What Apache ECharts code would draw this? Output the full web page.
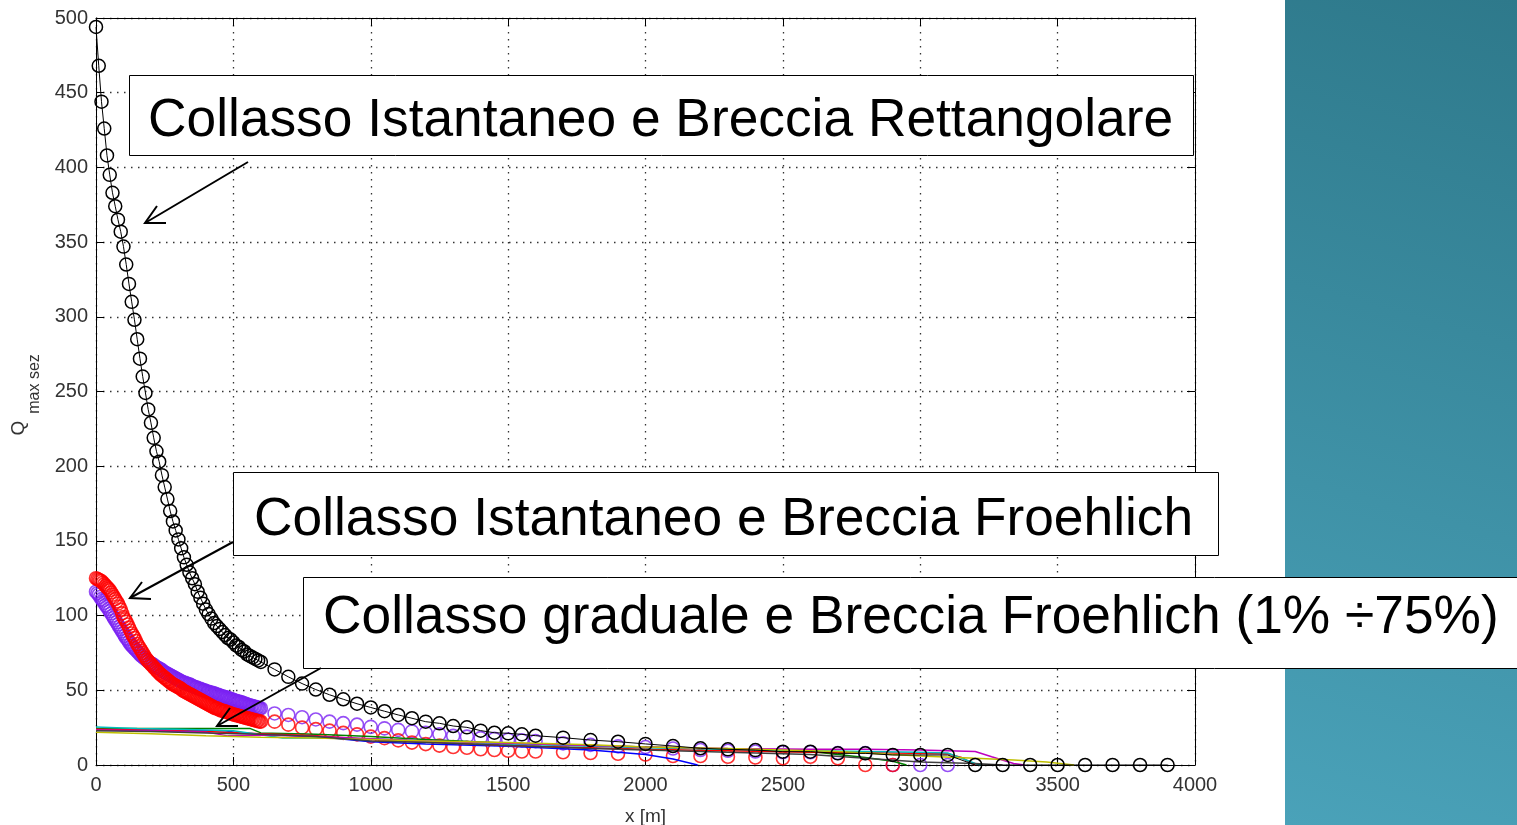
<!DOCTYPE html>
<html>
<head>
<meta charset="utf-8">
<script src="https://cdn.jsdelivr.net/npm/echarts@6/dist/echarts.min.js"></script>
<style>
  html, body { margin: 0; padding: 0; background: #ffffff; }
  #chart { width: 1517px; height: 825px; }
</style>
</head>
<body>
<div id="chart"></div>
<script>
// Cross-section positions along the valley [m]
const sectionsFine = [0,5,10,15,20,25,30,35,40,45,50,55,60,65,70,75,80,85,90,95,100,
  105,110,115,120,125,130,135,140,145,150,155,160,165,170,175,180,185,190,195,200,
  205,210,215,220,225,230,235,240,245,250,255,260,265,270,275,280,285,290,295,300,
  305,310,315,320,325,330,335,340,345,350,355,360,365,370,375,380,385,390,395,400,
  405,410,415,420,425,430,435,440,445,450,455,460,465,470,475,480,485,490,495,500,
  505,510,515,520,525,530,535,540,545,550,555,560,565,570,575,580,585,590,595,600];
const sectionsDense = [0,10,20,30,40,50,60,70,80,90,100,110,120,130,140,150,160,170,180,190,200,
  210,220,230,240,250,260,270,280,290,300,310,320,330,340,350,360,370,380,390,400,
  410,420,430,440,450,460,470,480,490,500,510,520,530,540,550,560,570,580,590,600];
const sectionsSparse = [650,700,750,800,850,900,950,1000,1050,1100,1150,1200,1250,1300,1350,1400,1450,1500,1550,1600,
  1700,1800,1900,2000,2100,2200,2300,2400,2500,2600,2700,2800,2900,3000,3100,3200,3300,3400,3500,3600,3700,3800,3900];

// Peak discharge, instantaneous collapse, rectangular breach
const rettDense = [494,468,444,426,408,395,383,374,365,357,347,335,322,310,298,285,272,260,249,238,229,
  219,210,203,194,186,178,170,163,157,151,145,139,134,129,125,121,116,112,108,104,
  101,98,95,93,91,89,87,85,84,82,80,79,77,76,74,73,72,71,70,69];
const rettSparse = [64,59,54.5,50.5,47,44,41,38.5,36,33.5,31.3,29,27.9,26.1,25.2,23,21.6,21.2,20.5,19.6,
  18.3,16.7,15.6,14.1,12.7,11.2,10.5,10,8.9,8.9,7.8,7.8,6.7,6.7,6.7,0,0,0,0,0,0,0,0];

// Peak discharge, instantaneous collapse, Froehlich breach (two runs)
const froehRedFine = [125,124.5,124,123.5,123,122,121,120,119,118,117,115.5,114,112.5,111,109.5,108,106,104,101.5,99,
  97.5,96,94,92,90,88,86.5,85,83,81,79.5,78,76.5,75,73.5,72,70.5,69.5,68.5,67.5,
  66.5,65.5,64.5,63.5,62.5,61.5,60.5,60,59,58.5,57.5,57,56,55.5,54.5,54,53.5,53,52.5,52,
  51.5,51,50,49.5,49,48.5,48,47.5,47,46.5,46,45.5,45,44.5,44,43.5,43,42.5,42,41.5,
  41,40.5,40,39.5,39,38.5,38,38,37.5,37,36.5,36.5,36,36,35.5,35,35,34.5,34,34,
  33.5,33.5,33,33,32.5,32.5,32,32,31.5,31.5,31,31,30.5,30.5,30,30,29.5,29.5,29,29];
const froehRedSparse = [29,27,25,24,23,21.5,20.5,19,18,16.5,15,14,13,12,11.5,10.5,10,9.5,9,9,
  8.5,8,7.5,7,6,6,5.5,5,4.5,5.5,4.5,0,0];
const froehVioFine = [116,115,114,112.5,111,110,108.5,107,106,104.5,103,101.5,100,98.5,97,95.5,94,92.5,91,89.5,88,
  86.5,85,84,82.5,81,80,79,78,77,76,75,74,73,72.5,71.5,71,70,69.5,68.5,68,
  67.5,67,66,65.5,65,64.5,64,63.5,62.5,62,61.5,61,60.5,60,59.5,59,58.5,58,57.5,57,
  56.5,56,55.5,55,55,54.5,54,54,53.5,53,52.5,52,52,51.5,51,51,50.5,50,50,49.5,
  49,49,48.5,48.5,48,48,47.5,47,47,46.5,46,46,45.5,45.5,45,45,44.5,44,44,43.5,
  43,43,42.5,42.5,42,42,41.5,41,41,40.5,40,40,39.5,39.5,39,39,38.5,38.5,38,38];
const froehVioSparse = [34.5,33.5,32,30.5,29,28,27,25.5,24.5,23.5,22.5,21.5,20.5,19.5,19,18,17.5,17,16.5,16,
  14.5,13.5,12.5,12,11,10,9.5,9,8.5,8.5,8,8,0,0,0];

// Peak discharge, gradual collapse, Froehlich breach (1% - 75%)
const gradBlue = [[0,24],[250,23.5],[470,23],[520,21.5],[800,19],[1000,15.5],[1200,14],[1500,12.5],[1800,10],[2000,7],[2100,4],[2190,0]];
const gradGreen = [[0,24.5],[300,24.5],[560,24.5],[600,21.5],[800,20.5],[1000,19],[1200,17],[1500,14.5],[1800,13],[2000,12],[2300,10.5],[2600,9],[2800,5],[2900,2.5],[2950,0]];
const gradRed = [[0,24],[200,23.5],[400,22.5],[600,21],[800,19.5],[1000,17],[1200,15.5],[1500,13],[1800,11.5],[2000,10.5],[2300,9.5],[2600,8.5],[2900,8],[3100,7.5],[3150,5],[3200,0]];
const gradCyan = [[0,25.5],[150,24.5],[300,24],[500,23],[680,18],[800,18],[1000,17.5],[1200,16],[1500,14],[1800,12.5],[2000,11.5],[2300,10.5],[2600,9.5],[2800,9],[3000,8.5],[3100,8],[3200,1],[3220,0]];
const gradMagenta = [[0,23.5],[200,23],[400,22],[480,19.5],[600,20],[800,19],[1000,17.5],[1200,16],[1500,14.5],[1800,13],[2000,12],[2300,11],[2600,10.5],[2800,10.5],[3000,10],[3200,9],[3260,5.5],[3340,1],[3380,0]];
const gradYellow = [[0,22],[200,21],[400,19.5],[600,18.5],[800,18],[1000,17],[1200,16],[1500,15],[1800,13.5],[2000,12],[2300,11],[2500,10],[2700,9],[3000,6],[3200,4.5],[3340,3.3],[3460,2],[3560,0]];
const gradBlack = [[0,23],[200,22.5],[400,21.5],[600,20.5],[800,19],[1000,16],[1200,15],[1500,13],[1800,11],[2000,10],[2300,8.5],[2600,7],[2800,4.5],[3000,2],[3200,1],[3300,0]];

const xTicks = { min: 0, max: 4000, step: 500 };
const yTicks = { min: 0, max: 500, step: 50 };

const labels = [
  'Collasso Istantaneo e Breccia Rettangolare',
  'Collasso Istantaneo e Breccia Froehlich',
  'Collasso graduale e Breccia Froehlich (1% \u00f775%)'
];

function pairs(xs, ys) { return ys.map((y, i) => [xs[i], y]); }

const chart = echarts.init(document.getElementById('chart'), null, { renderer: 'canvas' });

const tickFont = { color: '#333', fontSize: 20, fontFamily: 'Liberation Sans', formatter: v => String(v) };
const gridDots = { show: true, lineStyle: { color: '#333', width: 1.3, type: [1.5, 5.5] } };
const boxAxisLine = { show: true, onZero: false, lineStyle: { color: '#000', width: 1 } };
const inTick = { show: true, inside: true, length: 8, lineStyle: { color: '#000', width: 1 } };

function circles(name, color, xsD, dense, xsS, sparse) {
  return {
    name, type: 'scatter', clip: false,
    symbol: 'circle', symbolSize: 13,
    itemStyle: { color: 'transparent', borderColor: color, borderWidth: 1.6 },
    data: pairs(xsD, dense).concat(pairs(xsS, sparse)),
    z: 3
  };
}
function gradLine(name, color, data) {
  return {
    name, type: 'line', data, showSymbol: false, clip: false,
    lineStyle: { color, width: 1.5 }, itemStyle: { color }, z: 4
  };
}

const boxes = [
  { x: 129, y: 75, w: 1064, h: 80, tx: 148, ty: 121, text: labels[0] },
  { x: 233, y: 472, w: 985, h: 83, tx: 254, ty: 520, text: labels[1] },
  { x: 303, y: 577, w: 1230, h: 91, tx: 323, ty: 618, text: labels[2] }
];
const arrows = [
  { tail: [248, 162], tip: [145, 223], w1: [157, 206], w2: [166, 223] },
  { tail: [233, 542], tip: [130, 598], w1: [142, 582], w2: [151, 599] },
  { tail: [321, 668], tip: [217, 726], w1: [230, 708], w2: [238, 726] }
];

const graphics = [
  {
    type: 'rect', z: -1, silent: true,
    shape: { x: 1285, y: 0, width: 232, height: 825 },
    style: { fill: { type: 'linear', x: 0, y: 1, x2: 1, y2: 0,
      colorStops: [{ offset: 0, color: '#4aa2b9' }, { offset: 1, color: '#2e798b' }] } }
  },
  // y-axis title: Q with subscript "max sez"
  { type: 'text', x: 19, y: 428, rotation: Math.PI / 2,
    style: { text: 'Q', fill: '#333', fontSize: 19, fontFamily: 'Liberation Sans', align: 'center', verticalAlign: 'middle' } },
  { type: 'text', x: 35, y: 384, rotation: Math.PI / 2,
    style: { text: 'max sez', fill: '#333', fontSize: 16, fontFamily: 'Liberation Sans', align: 'center', verticalAlign: 'middle' } }
];
boxes.forEach(b => {
  graphics.push({ type: 'rect', z: 100, shape: { x: b.x + 0.5, y: b.y + 0.5, width: b.w, height: b.h },
    style: { fill: '#ffffff', stroke: '#000', lineWidth: 1 } });
  graphics.push({ type: 'text', z: 101, x: b.tx, y: b.ty,
    style: { text: b.text, fill: '#000', fontSize: 53.3, fontFamily: 'Liberation Sans', align: 'left', verticalAlign: 'middle' } });
});
arrows.forEach(a => {
  graphics.push({ type: 'polyline', z: 102, shape: { points: [a.tail, a.tip] }, style: { stroke: '#000', lineWidth: 2, fill: null } });
  graphics.push({ type: 'polyline', z: 102, shape: { points: [a.w1, a.tip, a.w2] }, style: { stroke: '#000', lineWidth: 2, fill: null } });
});

chart.setOption({
  animation: false,
  backgroundColor: '#ffffff',
  grid: { left: 96, top: 18, width: 1099, height: 747, containLabel: false, outerBoundsMode: 'none' },
  xAxis: [
    {
      type: 'value', position: 'bottom', min: xTicks.min, max: xTicks.max, interval: xTicks.step,
      axisLine: boxAxisLine, axisTick: inTick, splitLine: gridDots,
      axisLabel: Object.assign({ margin: 10 }, tickFont),
      name: 'x [m]', nameLocation: 'middle', nameGap: 42,
      nameTextStyle: { color: '#333', fontSize: 19, fontFamily: 'Liberation Sans' }
    },
    {
      type: 'value', position: 'top', min: xTicks.min, max: xTicks.max, interval: xTicks.step,
      axisLine: boxAxisLine, axisTick: inTick, splitLine: { show: false }, axisLabel: { show: false }
    }
  ],
  yAxis: [
    {
      type: 'value', position: 'left', min: yTicks.min, max: yTicks.max, interval: yTicks.step,
      axisLine: boxAxisLine, axisTick: inTick, splitLine: gridDots,
      axisLabel: Object.assign({ margin: 8 }, tickFont)
    },
    {
      type: 'value', position: 'right', min: yTicks.min, max: yTicks.max, interval: yTicks.step,
      axisLine: boxAxisLine, axisTick: inTick, splitLine: { show: false }, axisLabel: { show: false }
    }
  ],
  series: [
    circles('Froehlich 2', '#7b22f2', sectionsFine, froehVioFine, sectionsSparse, froehVioSparse),
    circles('Froehlich 1', '#ff0000', sectionsFine, froehRedFine, sectionsSparse, froehRedSparse),
    gradLine('graduale 1', '#0000ff', gradBlue),
    gradLine('graduale 2', '#008000', gradGreen),
    gradLine('graduale 3', '#ff0000', gradRed),
    gradLine('graduale 4', '#00bfbf', gradCyan),
    gradLine('graduale 5', '#bf00bf', gradMagenta),
    gradLine('graduale 6', '#bfbf00', gradYellow),
    gradLine('graduale 7', '#404040', gradBlack),
    {
      name: 'Rettangolare', type: 'line', clip: false, showAllSymbol: true,
      symbol: 'circle', symbolSize: 13,
      itemStyle: { color: 'transparent', borderColor: '#000', borderWidth: 1.5 },
      lineStyle: { color: '#000', width: 1 },
      data: pairs(sectionsDense, rettDense).concat(pairs(sectionsSparse, rettSparse)),
      z: 5
    }
  ],
  graphic: graphics
});
</script>
</body>
</html>
